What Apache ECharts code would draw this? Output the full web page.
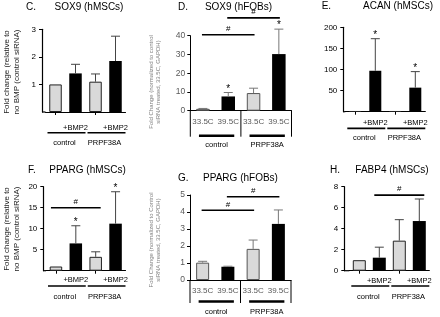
<!DOCTYPE html>
<html>
<head>
<meta charset="utf-8">
<script src="https://cdn.jsdelivr.net/npm/echarts@6/dist/echarts.min.js"></script>
<style>
html, body { margin: 0; padding: 0; background: #fff; }
#box { width: 440px; height: 317px; }
</style>
</head>
<body>
<div id="box"></div>
<script>
// categories
var bmpCats = ['', '+BMP2', '', '+BMP2'];
var tempCats = ['33.5C', '39.5C', '33.5C', '39.5C'];
var groupNames = ['control', 'PRPF38A'];

// C. SOX9 (hMSCs)
var sox9MscTicks = [0, 1, 2, 3];
var sox9MscMean = [1.0, 1.40, 1.10, 1.85];
var sox9MscErr = [0, 0.33, 0.28, 0.90];
var sox9MscStars = ['', '', '', ''];
var sox9MscSig = [];

// D. SOX9 (hFOBs)
var sox9FobTicks = [0, 10, 20, 30, 40];
var sox9FobMean = [1.0, 7.6, 9.4, 30.2];
var sox9FobErr = [0.2, 2.1, 2.6, 13.3];
var sox9FobStars = ['', '*', '', '*'];
var sox9FobSig = [[0, 2, 40.5], [1, 3, 49.5]];

// E. ACAN (hMSCs)
var acanTicks = [0, 50, 100, 150, 200];
var acanMean = [1, 97, 1, 57];
var acanErr = [0, 76, 0, 38];
var acanStars = ['', '*', '', '*'];
var acanSig = [];

// F. PPARG (hMSCs)
var ppargMscTicks = [0, 5, 10, 15, 20];
var ppargMscMean = [1.0, 6.5, 3.3, 11.2];
var ppargMscErr = [0, 4.2, 1.2, 7.6];
var ppargMscStars = ['', '*', '', '*'];
var ppargMscSig = [[0, 2, 15]];

// G. PPARG (hFOBs)
var ppargFobTicks = [0, 1, 2, 3, 4, 5];
var ppargFobMean = [1.02, 0.78, 1.83, 3.3];
var ppargFobErr = [0.08, 0.03, 0.52, 0.82];
var ppargFobStars = ['', '', '', ''];
var ppargFobSig = [[0, 2, 4.1], [1, 3, 4.9]];

// H. FABP4 (hMSCs)
var fabp4Ticks = [0, 2, 4, 6, 8];
var fabp4Mean = [1.0, 1.24, 2.86, 4.73];
var fabp4Err = [0, 1.0, 2.0, 2.1];
var fabp4Stars = ['', '', '', ''];
var fabp4Sig = [[1, 3, 7.2]];

var mscYName = ['Fold change (relative to', 'no BMP (control siRNA)'];
var fobYNameD = ['Fold Change (normalized to control', 'siRNA treated, 33.5C, GAPDH)'];
var fobYNameG = ['Fold Change (normalized to Control', 'siRNA treated, 33.5C, GAPDH)'];

var FONT = 'Liberation Sans';

var panels = [
    { letter: 'C.', title: 'SOX9 (hMSCs)', kind: 'msc', ticks: sox9MscTicks, mean: sox9MscMean, err: sox9MscErr,
      stars: sox9MscStars, sig: sox9MscSig, grid: { left: 45.5, top: 29.3, width: 80, height: 82.7 }, off: 3.5,
      barWidth: 12.5, sub: [15.5, 20.7, 30.7], hideMin: true, yName: mscYName, nameXY: [12, 72],
      titleXY: [26, 7, 89] },
    { letter: 'D.', title: 'SOX9 (hFOBs)', kind: 'fob', ticks: sox9FobTicks, mean: sox9FobMean, err: sox9FobErr,
      stars: sox9FobStars, sig: sox9FobSig, grid: { left: 190.3, top: 35.7, width: 101.2, height: 75 }, off: 0,
      barWidth: 13.5, sub: [11.5, 25, 34.5, 26], hideMin: false, yName: fobYNameD, nameXY: [155, 82],
      titleXY: [178, 7, 238.5] },
    { letter: 'E.', title: 'ACAN (hMSCs)', kind: 'msc', ticks: acanTicks, mean: acanMean, err: acanErr,
      stars: acanStars, sig: acanSig, grid: { left: 345.3, top: 27.3, width: 80, height: 84.4 }, off: 2,
      barWidth: 12, sub: [11.6, 16.7, 26.7], hideMin: true, yName: null,
      titleXY: [321.7, 6, 398] },
    { letter: 'F.', title: 'PPARG (hMSCs)', kind: 'msc', ticks: ppargMscTicks, mean: ppargMscMean, err: ppargMscErr,
      stars: ppargMscStars, sig: ppargMscSig, grid: { left: 46, top: 186.7, width: 79.5, height: 84 }, off: 2.7,
      barWidth: 12.5, sub: [9.5, 15.3, 26.6], hideMin: true, yName: mscYName, nameXY: [11.5, 229],
      titleXY: [28, 170, 87.5] },
    { letter: 'G.', title: 'PPARG (hFOBs)', kind: 'fob', ticks: ppargFobTicks, mean: ppargFobMean, err: ppargFobErr,
      stars: ppargFobStars, sig: ppargFobSig, grid: { left: 190, top: 195, width: 101, height: 85 }, off: 0,
      barWidth: 13, sub: [10.5, 21.5, 31.5, 23], hideMin: false, yName: fobYNameG, nameXY: [155, 240],
      titleXY: [178, 178, 240.5] },
    { letter: 'H.', title: 'FABP4 (hMSCs)', kind: 'msc', ticks: fabp4Ticks, mean: fabp4Mean, err: fabp4Err,
      stars: fabp4Stars, sig: fabp4Sig, grid: { left: 349.3, top: 186.7, width: 80, height: 84 }, off: 5,
      barWidth: 13, sub: [10, 15.3, 26], hideMin: false, yName: null,
      titleXY: [330, 170, 392] }
];

// one-sided error bar + significance star above it
function errorRender(p) {
    var color = p.kind === 'msc' ? '#444' : '#777';
    return function (params, api) {
        var i = api.value(0);
        var m = api.value(1);
        var e = api.value(2);
        var base = api.coord([i, m]);
        var top = api.coord([i, m + e]);
        var kids = [];
        if (e > 0) {
            kids.push({ type: 'line', shape: { x1: base[0], y1: base[1], x2: top[0], y2: top[1] },
                style: { stroke: color, lineWidth: 1 } });
            kids.push({ type: 'line', shape: { x1: top[0] - 4.5, y1: top[1], x2: top[0] + 4.5, y2: top[1] },
                style: { stroke: color, lineWidth: 1 } });
        }
        if (p.stars[i]) {
            kids.push({ type: 'text', x: top[0], y: top[1] + 1.5,
                style: { text: p.stars[i], fontSize: 10, fontFamily: FONT, fill: '#000', align: 'center', verticalAlign: 'bottom' } });
        }
        return { type: 'group', children: kids };
    };
}

// '#' comparison bars
function sigRender(p) {
    var pad = p.kind === 'msc' ? 5 : 1;
    return function (params, api) {
        var a = api.coord([api.value(0), api.value(2)]);
        var b = api.coord([api.value(1), api.value(2)]);
        return { type: 'group', children: [
            { type: 'line', shape: { x1: a[0] - pad, y1: a[1], x2: b[0] + pad, y2: b[1] },
              style: { stroke: '#000', lineWidth: 1.6 } },
            { type: 'text', x: (a[0] + b[0]) / 2, y: a[1] - 2,
              style: { text: '#', fontSize: 8, fontFamily: FONT, fill: '#000', align: 'center', verticalAlign: 'bottom' } }
        ] };
    };
}

// group underline + group name (and the table lines for the hFOB panels)
function groupRender(p) {
    return function (params, api) {
        var g = api.value(0);
        var a = api.coord([2 * g, 0]);
        var b = api.coord([2 * g + 1, 0]);
        var band = api.size([1, 0])[0];
        var y0 = a[1];
        var kids = [];
        if (p.kind === 'msc') {
            kids.push({ type: 'line', shape: { x1: a[0] - 0.4 * band, y1: y0 + p.sub[1], x2: b[0] + 0.5 * band, y2: y0 + p.sub[1] },
                style: { stroke: '#000', lineWidth: 1.6 } });
            kids.push({ type: 'text', x: (a[0] + b[0]) / 2 - 1, y: y0 + p.sub[2],
                style: { text: groupNames[g], fontSize: 7.5, fontFamily: FONT, fill: '#000', align: 'center', verticalAlign: 'middle' } });
            if (g === 0 && p.off > 0) {
                var gl = a[0] - band / 2;
                kids.push({ type: 'line', shape: { x1: gl - p.off, y1: y0, x2: gl, y2: y0 },
                    style: { stroke: '#000', lineWidth: 1.2 } });
            }
        } else {
            var xs = g === 0 ? [a[0] - band / 2] : [a[0] - band / 2, b[0] + band / 2];
            xs.forEach(function (x) {
                kids.push({ type: 'line', shape: { x1: x, y1: y0, x2: x, y2: y0 + p.sub[3] },
                    style: { stroke: '#000', lineWidth: 1 } });
            });
            kids.push({ type: 'line', shape: { x1: a[0] - 4, y1: y0 + p.sub[1], x2: b[0] + 6, y2: y0 + p.sub[1] },
                style: { stroke: '#000', lineWidth: 2.5 } });
            kids.push({ type: 'text', x: (a[0] + b[0]) / 2 + 1, y: y0 + p.sub[2],
                style: { text: groupNames[g], fontSize: 7.5, fontFamily: FONT, fill: '#000', align: 'center', verticalAlign: 'middle' } });
        }
        return { type: 'group', children: kids };
    };
}

var grids = [], xAxes = [], yAxes = [], series = [], graphics = [];

panels.forEach(function (p, k) {
    var msc = p.kind === 'msc';
    grids.push(Object.assign({ outerBoundsMode: 'none', containLabel: false }, p.grid));
    xAxes.push({
        type: 'category', gridIndex: k, data: msc ? bmpCats : tempCats,
        axisLine: { show: true, lineStyle: { color: '#000', width: msc ? 1.2 : 1 } },
        axisTick: msc ? { show: true, alignWithLabel: true, length: 3, inside: false,
                          interval: function (idx) { return idx % 2 === 0; },
                          lineStyle: { color: '#000', width: 1 } } : { show: false },
        axisLabel: { show: true, interval: 0, fontFamily: FONT, fontSize: msc ? 7.5 : 8,
                     color: msc ? '#000' : '#595959', margin: p.sub[0] - 4 },
        splitLine: { show: false }
    });
    var t = p.ticks;
    yAxes.push({
        type: 'value', gridIndex: k, min: t[0], max: t[t.length - 1], interval: t[1] - t[0],
        offset: p.off,
        axisLine: { show: true, lineStyle: { color: '#000', width: msc ? 1.2 : 1 } },
        axisTick: { show: true, length: 3, lineStyle: { color: '#000' } },
        axisLabel: { show: true, fontFamily: FONT, fontSize: msc ? 8 : 8.5, color: msc ? '#000' : '#595959',
                     margin: msc ? 6 : 5, showMinLabel: !p.hideMin },
        splitLine: { show: false }
    });
    series.push({
        type: 'bar', xAxisIndex: k, yAxisIndex: k, barWidth: p.barWidth, z: 2,
        data: p.mean.map(function (v, i) {
            return { value: v, itemStyle: i % 2 === 0
                ? { color: '#d9d9d9', borderColor: msc ? '#222' : '#555', borderWidth: 1 }
                : { color: '#000', borderColor: '#000', borderWidth: 0 } };
        })
    });
    series.push({
        type: 'custom', xAxisIndex: k, yAxisIndex: k, z: 3, clip: false,
        encode: { x: 0, y: 1 },
        data: p.mean.map(function (v, i) { return [i, v, p.err[i]]; }),
        renderItem: errorRender(p)
    });
    if (p.sig.length) {
        series.push({
            type: 'custom', xAxisIndex: k, yAxisIndex: k, z: 3, clip: false,
            encode: { x: 0, y: 2 },
            data: p.sig,
            renderItem: sigRender(p)
        });
    }
    series.push({
        type: 'custom', xAxisIndex: k, yAxisIndex: k, z: 3, clip: false,
        encode: { x: 0, y: 1 },
        data: [[0, 0], [1, 0]],
        renderItem: groupRender(p)
    });

    graphics.push({ type: 'text', x: p.titleXY[0], y: p.titleXY[1],
        style: { text: p.letter, fontSize: 10, fontFamily: FONT, fill: '#000', align: 'left', verticalAlign: 'middle' } });
    graphics.push({ type: 'text', x: p.titleXY[2], y: p.titleXY[1],
        style: { text: p.title, fontSize: 10, fontFamily: FONT, fill: '#000', align: 'center', verticalAlign: 'middle' } });
    if (p.yName) {
        graphics.push({ type: 'text', x: p.nameXY[0], y: p.nameXY[1], rotation: Math.PI / 2,
            style: { text: p.yName.join('\n'), fontFamily: FONT, fontSize: msc ? 8 : 6, lineHeight: msc ? 10 : 7,
                     fill: msc ? '#222' : '#808080', align: 'center', verticalAlign: 'middle' } });
    }
});

var option = {
    animation: false,
    backgroundColor: '#fff',
    grid: grids,
    xAxis: xAxes,
    yAxis: yAxes,
    series: series,
    graphic: graphics
};

var myChart = echarts.init(document.getElementById('box'));
myChart.setOption(option);
</script>
</body>
</html>
